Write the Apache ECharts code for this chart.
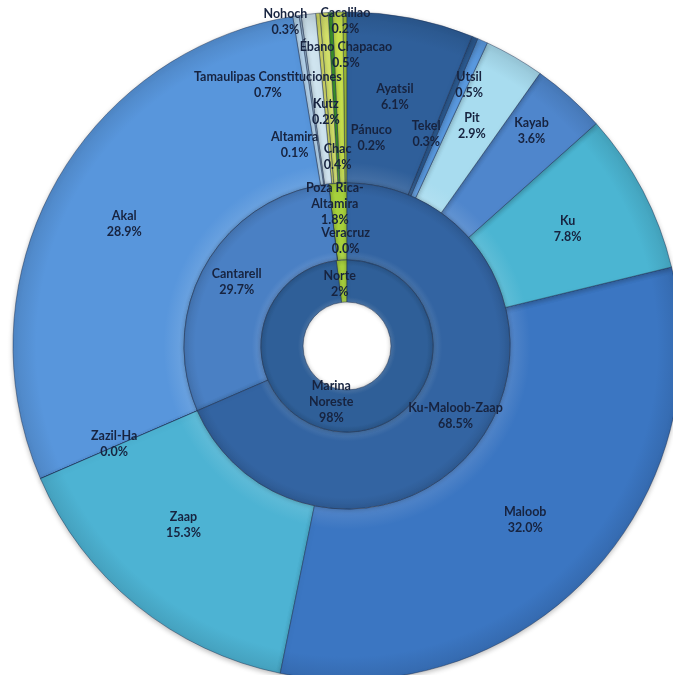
<!DOCTYPE html>
<html>
<head>
<meta charset="utf-8">
<script src="https://cdn.jsdelivr.net/npm/echarts@6/dist/echarts.min.js"></script>
<style>
html,body{margin:0;padding:0;background:#fff;}
#chart{width:673px;height:675px;}
</style>
</head>
<body>
<div id="chart"></div>
<script>
// ---- data (counter-clockwise from 12 o'clock) ----
const innerNames = ['Norte', 'Marina Noreste'];
const innerValues = [2, 98];

const middleNames = ['Poza Rica-Altamira', 'Veracruz', 'Cantarell', 'Ku-Maloob-Zaap'];
const middleValues = [1.8, 0.0, 29.7, 68.5];

const outerNames = ['Cacalilao', 'Ébano Chapacao', 'Pánuco', 'Chac', 'Kutz',
  'Tamaulipas Constituciones', 'Altamira', 'Nohoch', 'Akal', 'Zazil-Ha', 'Zaap',
  'Maloob', 'Ku', 'Kayab', 'Pit', 'Utsil', 'Tekel', 'Ayatsil'];
const outerValues = [0.2, 0.5, 0.2, 0.4, 0.2, 0.7, 0.1, 0.3, 28.9, 0.0, 15.3,
  32.0, 7.8, 3.6, 2.9, 0.5, 0.3, 6.1];

// ---- styles ----
const innerColors = ['#a9d23e', '#2f5f98'];
const middleColors = ['#a6d03c', '#8cc03a', '#4a80c4', '#3364a2'];
const outerColors = ['#b8d93f', '#c9e24e', '#3f9a2c', '#d6e36c', '#d9e06a',
  '#cfe4ef', '#9fbcd6', '#b7d6ee', '#5896dc', '#5ec6e8', '#4db3d3',
  '#3b76c2', '#4bb5d2', '#4f86cc', '#a8dcef', '#5a9ae0', '#2d5c94', '#2f5f9a'];

// label nudges for the crowded small slices (px)
const innerLabelOffsets = [[-3, 6], [-20, -12]];
const middleLabelOffsets = [[-5, -15], [13, 22], [0, 0], [2, 0]];
const outerLabelOffsets = [[0, -74], [6, -40], [37, 43], [8, 62], [1, 16],
  [-50, -11], [-17, 48], [-23, -76], [-2, -2], [-2, -2], [-5, -16],
  [-3, 0], [-2, 0], [17, -27], [-1, -2], [20, -31], [-17, 20], [0, -2]];

const wrapNames = {'Poza Rica-Altamira': 'Poza Rica-\nAltamira', 'Marina Noreste': 'Marina\nNoreste'};

const center = [347, 346];

function mix(hex, target, t) {
  const c = parseInt(hex.slice(1), 16);
  const r = (c >> 16) & 255, g = (c >> 8) & 255, b = c & 255;
  const m = v => Math.round(v + (target - v) * t);
  return 'rgb(' + m(r) + ',' + m(g) + ',' + m(b) + ')';
}
function ringFill(hex, r0, r1) {
  return new echarts.graphic.RadialGradient(center[0], center[1], r1, [
    {offset: 0, color: mix(hex, 255, 0.12)},
    {offset: r0 / r1, color: mix(hex, 255, 0.12)},
    {offset: (r0 + (r1 - r0) * 0.12) / r1, color: hex},
    {offset: 0.93, color: hex},
    {offset: 1, color: mix(hex, 0, 0.1)}
  ], true);
}

function build(names, values, colors, offsets, r0, r1) {
  return names.map((n, i) => ({
    name: n,
    value: values[i],
    itemStyle: {color: ringFill(colors[i], r0, r1)},
    label: {offset: offsets[i]}
  }));
}

const labelBase = {
  show: true,
  position: 'inside',
  color: '#17233f',
  fontFamily: 'Lato',
  fontWeight: 'bold',
  fontSize: 12.5,
  lineHeight: 16,
  align: 'center'
};

const chart = echarts.init(document.getElementById('chart'), null, {renderer: 'canvas'});
chart.setOption({
  animation: false,
  backgroundColor: '#ffffff',
  series: [
    {
      type: 'pie', center: center, radius: [163, 334],
      clockwise: false, startAngle: 90, silent: true,
      avoidLabelOverlap: false,
      labelLayout: {hideOverlap: false},
      itemStyle: {borderColor: 'rgba(25,45,80,0.45)', borderWidth: 1,
        shadowBlur: 5, shadowColor: 'rgba(0,0,0,0.25)', shadowOffsetY: 2},
      label: Object.assign({}, labelBase, {
        formatter: p => p.name + '\n' + p.value.toFixed(1) + '%'
      }),
      labelLine: {show: false},
      data: build(outerNames, outerValues, outerColors, outerLabelOffsets, 163, 334)
    },
    {
      type: 'pie', center: center, radius: [86, 163],
      clockwise: false, startAngle: 90, silent: true,
      avoidLabelOverlap: false,
      labelLayout: {hideOverlap: false},
      itemStyle: {borderColor: 'rgba(25,45,80,0.5)', borderWidth: 1,
        shadowBlur: 4, shadowColor: 'rgba(0,0,0,0.25)'},
      label: Object.assign({}, labelBase, {
        formatter: p => (wrapNames[p.name] || p.name) + '\n' + p.value.toFixed(1) + '%'
      }),
      labelLine: {show: false},
      data: build(middleNames, middleValues, middleColors, middleLabelOffsets, 86, 163)
    },
    {
      type: 'pie', center: center, radius: [44, 86],
      clockwise: false, startAngle: 90, silent: true,
      avoidLabelOverlap: false,
      labelLayout: {hideOverlap: false},
      itemStyle: {borderColor: 'rgba(25,45,80,0.5)', borderWidth: 1,
        shadowBlur: 4, shadowColor: 'rgba(0,0,0,0.25)'},
      label: Object.assign({}, labelBase, {
        formatter: p => (wrapNames[p.name] || p.name) + '\n' + Math.round(p.value) + '%'
      }),
      labelLine: {show: false},
      data: build(innerNames, innerValues, innerColors, innerLabelOffsets, 44, 86)
    }
  ]
});
</script>
</body>
</html>
